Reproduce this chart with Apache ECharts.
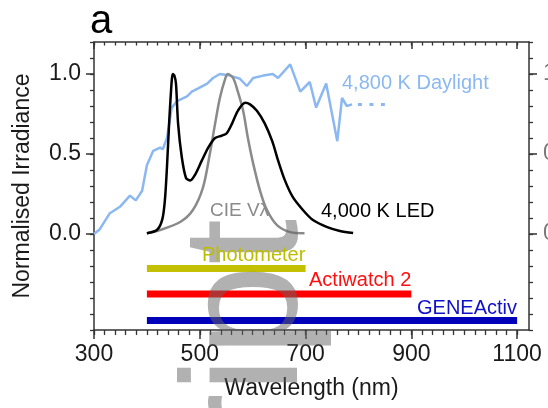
<!DOCTYPE html>
<html>
<head>
<meta charset="utf-8">
<script src="https://cdn.jsdelivr.net/npm/echarts@6/dist/echarts.min.js"></script>
<style>html,body{margin:0;padding:0;background:#fff}#c{width:548px;height:408px}</style>
</head>
<body>
<div id="c"></div>
<script>
// ---- data ----
const daylightNm = [300,311,330,349,368,379,391,400,412,425,430,438,447,457,476,485,497,514,525,538,557,576,589,601,620,638,648,671,690,708,720,739,760,769,778,788];
const daylightVal = [0,0.03,0.13,0.17,0.24,0.21,0.27,0.43,0.52,0.54,0.53,0.60,0.79,0.83,0.86,0.89,0.91,0.94,0.975,1.0,0.99,0.97,0.925,0.975,0.99,1.0,0.975,1.06,0.89,0.95,0.79,0.94,0.58,0.85,0.80,0.81];
const daylightTailNm = [799,850];
const daylightTailVal = [0.81,0.81];

const ledNm = [400,419,429,434,438,442,447,449,452,455,459,466,474,482,491,504,516,529,542,551,561,572,586,595,608,623,637,648,661,676,695,714,741,765,790];
const ledVal = [0.005,0.025,0.09,0.21,0.42,0.69,0.96,1.0,0.99,0.94,0.69,0.48,0.35,0.335,0.37,0.46,0.54,0.60,0.615,0.63,0.69,0.77,0.82,0.81,0.77,0.69,0.58,0.46,0.335,0.23,0.15,0.087,0.043,0.019,0.006];

const cieNm = [400,425,463,487,506,519,529,538,548,553,563,572,582,591,601,614,627,646,671,698];
const cieVal = [0.005,0.025,0.075,0.15,0.29,0.50,0.69,0.85,0.97,1.0,0.975,0.89,0.77,0.60,0.44,0.27,0.15,0.056,0.012,0.005];

const deviceNames = ['Photometer','Actiwatch 2','GENEActiv'];
const deviceStart = [400,400,400];
const deviceEnd = [700,900,1100];
const deviceLevel = [-0.215,-0.375,-0.54];

const xTickLabels = [300,500,700,900,1100];
const yTickLabels = [0,0.5,1.0];

// ---- chart ----
const FONT = 'Liberation Sans';
const axisColor = '#333';
const X_MIN = 300, X_MAX = 1122.5;
const pair = (xs, ys) => xs.map((x, i) => [x, ys[i]]);
const isMajorY = v => yTickLabels.some(t => Math.abs(t - v) < 1e-6);

const chart = echarts.init(document.getElementById('c'), null, {renderer: 'canvas', width: 548, height: 408});

const baseX = (pos) => ({
  type: 'value', position: pos, min: X_MIN, max: X_MAX, interval: 20,
  axisLine: {show: true, onZero: false, lineStyle: {color: axisColor, width: 1.5}},
  splitLine: {show: false}
});
const baseY = (pos) => ({
  type: 'value', position: pos, min: -0.6, max: 1.2, interval: 0.1,
  axisLine: {show: true, onZero: false, lineStyle: {color: axisColor, width: 1.5}},
  splitLine: {show: false}
});

const minorXTicks = [];
for (let v = 300; v <= 1100; v += 20) minorXTicks.push(v);

const xAxes = [
  Object.assign(baseX('bottom'), {
    axisTick: {show: true, customValues: minorXTicks, length: 5, lineStyle: {color: axisColor, width: 1.3}},
    axisLabel: {customValues: xTickLabels, fontSize: 23, color: '#1a1a1a', margin: 13, fontFamily: FONT,
      formatter: v => ((Math.round(v) - 300) % 200 === 0 && v <= 1100 ? String(Math.round(v)) : '')},
    name: 'Wavelength (nm)', nameLocation: 'middle', nameGap: 47,
    nameTextStyle: {fontSize: 23, color: '#1a1a1a', fontFamily: FONT}
  }),
  Object.assign(baseX('top'), {
    axisTick: {show: true, customValues: minorXTicks, inside: true, length: 3.5, lineStyle: {color: axisColor, width: 1.3}},
    axisLabel: {show: false}
  }),
  Object.assign(baseX('bottom'), {
    axisLine: {show: false, onZero: false},
    axisTick: {show: true, customValues: xTickLabels, length: 9, lineStyle: {color: axisColor, width: 1.5}},
    axisLabel: {show: false}
  }),
  Object.assign(baseX('top'), {
    axisLine: {show: false, onZero: false},
    axisTick: {show: true, inside: true, customValues: xTickLabels, length: 7, lineStyle: {color: axisColor, width: 1.5}},
    axisLabel: {show: false}
  })
];

const yAxes = [
  Object.assign(baseY('left'), {
    axisTick: {show: true, length: 4, lineStyle: {color: axisColor, width: 1.3}},
    axisLabel: {customValues: yTickLabels, fontSize: 23, color: '#1a1a1a', margin: 13, fontFamily: FONT,
      formatter: v => (isMajorY(v) ? v.toFixed(1) : '')},
    name: 'Normalised Irradiance', nameLocation: 'middle', nameGap: 60,
    nameTextStyle: {fontSize: 23, color: '#1a1a1a', fontFamily: FONT}
  }),
  Object.assign(baseY('left'), {
    axisLine: {show: false, onZero: false},
    axisTick: {show: true, customValues: yTickLabels, length: 8, lineStyle: {color: axisColor, width: 1.5}},
    axisLabel: {show: false}
  }),
  Object.assign(baseY('right'), {
    axisTick: {show: true, length: 4, lineStyle: {color: axisColor, width: 1.3}},
    axisLabel: {customValues: yTickLabels, fontSize: 23, color: '#7a7a7a', margin: 14, fontFamily: FONT,
      formatter: v => (isMajorY(v) ? v.toFixed(1) : '')}
  }),
  Object.assign(baseY('right'), {
    axisLine: {show: false, onZero: false},
    axisTick: {show: true, customValues: yTickLabels, length: 8, lineStyle: {color: axisColor, width: 1.5}},
    axisLabel: {show: false}
  })
];

const deviceColors = ['#c2c000', '#ff0000', '#0000bb'];
const deviceTextColors = ['#bdbd00', '#ff1010', '#1010c8'];

const series = [
  {type: 'line', name: '4,800 K Daylight', data: pair(daylightNm, daylightVal), showSymbol: false, symbol: 'none',
   lineStyle: {color: '#8cb8f2', width: 2.5}, z: 2},
  {type: 'line', name: 'tail', data: pair(daylightTailNm, daylightTailVal), showSymbol: false, symbol: 'none',
   lineStyle: {color: '#8cb8f2', width: 3, type: [4, 7.5], cap: 'butt'}, z: 2},
  {type: 'line', name: 'CIE Vλ', data: pair(cieNm, cieVal), showSymbol: false, symbol: 'none', smooth: 0.3,
   lineStyle: {color: '#8a8a8a', width: 2.5}, z: 3},
  {type: 'line', name: '4,000 K LED', data: pair(ledNm, ledVal), showSymbol: false, symbol: 'none', smooth: 0.3,
   lineStyle: {color: '#000', width: 2.5}, z: 4}
];
deviceNames.forEach((n, i) => {
  series.push({type: 'line', name: n, data: [[deviceStart[i], deviceLevel[i]], [deviceEnd[i], deviceLevel[i]]],
    showSymbol: false, symbol: 'none', lineStyle: {color: deviceColors[i], width: 7, cap: 'butt'}, z: 2});
});

const txt = (text, x, y, size, color, align, z) => ({
  type: 'text', x: x, y: y, z: z || 20, silent: true,
  style: {text: text, fill: color, font: size + 'px "' + FONT + '"', align: align || 'left', verticalAlign: 'middle'}
});

chart.setOption({
  animation: false,
  backgroundColor: '#fff',
  textStyle: {fontFamily: FONT},
  grid: {left: 94, right: 19, top: 42, bottom: 78, containLabel: false, outerBoundsMode: 'none'},
  xAxis: xAxes,
  yAxis: yAxes,
  series: series,
  graphic: [
    {type: 'text', x: 251, y: 219, rotation: Math.PI / 2, z: 5, silent: true,
     style: {text: 'Script', fill: 'rgba(100,100,100,0.5)', font: '165px "' + FONT + '"', align: 'right', verticalAlign: 'middle'}},
    txt('a', 90, 22, 40, '#000'),
    txt('4,800 K Daylight', 342, 83, 20, '#8cb8f2'),
    txt('CIE Vλ', 210, 211, 19, '#8a8a8a'),
    txt('4,000 K LED', 321, 211, 20, '#000'),
    txt(deviceNames[0], 202, 255, 20, deviceTextColors[0]),
    txt(deviceNames[1], 309, 280, 20, deviceTextColors[1]),
    txt(deviceNames[2], 517, 308, 20, deviceTextColors[2], 'right')
  ]
});
</script>
</body>
</html>
